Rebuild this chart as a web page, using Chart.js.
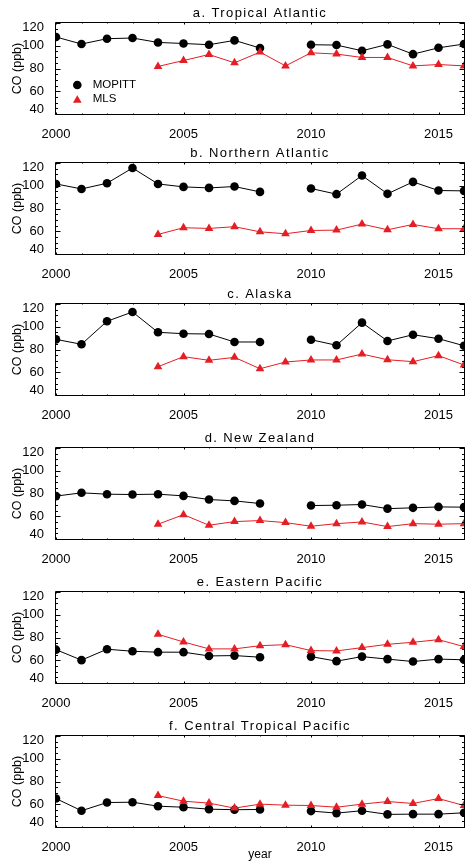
<!DOCTYPE html>
<html>
<head>
<meta charset="utf-8">
<script src="https://cdn.jsdelivr.net/npm/chart.js@4/dist/chart.umd.min.js"></script>
<style>
html, body { margin: 0; padding: 0; background: #ffffff; overflow: hidden; width: 469px; height: 864px; }
canvas { position: absolute; left: 0; }
</style>
</head>
<body>
<script>
// ---------- data ----------
const years = [2000, 2001, 2002, 2003, 2004, 2005, 2006, 2007, 2008, 2009, 2010, 2011, 2012, 2013, 2014, 2015, 2016];
const xTickLabels = ['2000', '2005', '2010', '2015'];
const yTickLabels = ['40', '60', '80', '100', '120'];
const seriesNames = ['MOPITT', 'MLS'];
const titles = ['a. Tropical Atlantic', 'b. Northern Atlantic', 'c. Alaska', 'd. New Zealand', 'e. Eastern Pacific', 'f. Central Tropical Pacific'];

const mopittA = [107.7, 101.5, 106.2, 106.8, 102.9, 102.0, 100.9, 104.7, 98.0, null, 100.9, 100.6, 95.6, 101.2, 92.6, 98.2, 101.5];
const mlsA    = [null, null, null, null, 81.8, 87.0, 92.3, 85.0, 94.4, 82.3, 93.8, 92.7, 89.7, 89.7, 82.3, 83.5, 82.3];

const mopittB = [101.6, 97.2, 102.2, 115.6, 101.6, 99.0, 98.1, 99.3, 94.6, null, 97.6, 92.6, 109.0, 92.9, 103.4, 95.8, 95.5];
const mlsB    = [null, null, null, null, 57.2, 63.1, 62.5, 64.0, 59.5, 57.8, 60.7, 61.0, 66.3, 61.3, 66.0, 62.2, 62.2];

const mopittC = [88.9, 84.6, 104.8, 113.0, 95.1, 93.9, 93.6, 86.6, 86.6, null, 88.6, 83.7, 103.6, 87.5, 93.0, 89.5, 83.3];
const mlsC    = [null, null, null, null, 64.9, 73.7, 70.5, 73.1, 63.1, 69.0, 70.8, 70.8, 76.0, 71.0, 69.3, 74.6, 66.4];

const mopittD = [77.7, 80.6, 79.4, 79.1, 79.4, 77.9, 74.7, 73.5, 71.2, null, 69.4, 69.7, 70.3, 66.7, 67.4, 68.2, 68.0];
const mlsD    = [null, null, null, null, 53.0, 61.4, 52.1, 55.3, 56.2, 54.4, 51.2, 53.5, 55.0, 50.9, 53.5, 53.0, 53.5];

const mopittE = [69.3, 60.1, 69.7, 67.9, 67.1, 67.1, 63.8, 64.1, 62.7, null, 63.2, 59.2, 63.2, 61.0, 58.9, 61.0, 60.4];
const mlsE    = [null, null, null, null, 82.8, 76.1, 70.0, 70.0, 72.8, 73.7, 68.5, 68.2, 71.1, 74.0, 75.8, 78.1, 72.0];

const mopittF = [65.0, 54.3, 61.5, 61.8, 58.3, 57.4, 55.7, 55.2, 55.4, null, 54.0, 52.2, 54.3, 51.1, 51.3, 51.3, 52.5];
const mlsF    = [null, null, null, null, 67.6, 62.7, 61.0, 56.6, 60.1, 59.2, 58.9, 57.4, 60.1, 62.4, 60.7, 65.0, 58.9];

const mopittSeries = [mopittA, mopittB, mopittC, mopittD, mopittE, mopittF];
const mlsSeries = [mlsA, mlsB, mlsC, mlsD, mlsE, mlsF];

// ---------- layout / style ----------
const plotTops = [23, 163, 304, 448, 592, 736];
const PAD_TOP = 22, PLOT_H = 91, AXIS_W = 56;
const FONT = '"Liberation Sans", Arial, Helvetica, sans-serif';
const RED = 'rgb(228,30,36)';
const BLACK = '#000000';
const EDGE_SHIFT = 4.7;

function drawMarker(ctx, style, r, x, y, color) {
  ctx.save();
  ctx.fillStyle = color;
  ctx.beginPath();
  if (style === 'circle') {
    ctx.arc(x, y, r, 0, Math.PI * 2);
  } else {
    let a = 0;
    ctx.moveTo(x + Math.sin(a) * r, y - Math.cos(a) * r);
    a += Math.PI * 2 / 3;
    ctx.lineTo(x + Math.sin(a) * r, y - Math.cos(a) * r);
    a += Math.PI * 2 / 3;
    ctx.lineTo(x + Math.sin(a) * r, y - Math.cos(a) * r);
    ctx.closePath();
  }
  ctx.fill();
  ctx.restore();
}

const idlPlugin = {
  id: 'idlAxes',
  beforeDraw(chart) {
    const ys = chart.scales.y;
    if (!ys || !ys.getLabelItems) return;
    const items = ys.getLabelItems(chart.chartArea);
    if (items && !items._shifted) {
      items.forEach(it => {
        const t = it.options && it.options.translation;
        if (!t) return;
        if (String(it.label) === yTickLabels[yTickLabels.length - 1]) t[1] += EDGE_SHIFT;
        if (String(it.label) === yTickLabels[0]) t[1] -= EDGE_SHIFT;
      });
      items._shifted = true;
    }
  },
  afterDatasetsDraw(chart) {
    const {ctx, chartArea: a, scales: {x, y}} = chart;
    ctx.save();
    ctx.strokeStyle = BLACK;
    ctx.lineWidth = 1;
    ctx.beginPath();
    const L = a.left - 0.5, R = a.right + 0.5, T = a.top - 0.5, B = a.bottom + 0.5;
    ctx.rect(L, T, R - L, B - T);
    // y ticks (inward, both sides), minor every 5
    for (let v = y.min; v <= y.max + 0.001; v += 5) {
      const py = Math.round(y.getPixelForValue(v)) + 0.5;
      const len = (v % 20 === 0) ? 5 : 2.5;
      ctx.moveTo(L, py); ctx.lineTo(L + len, py);
      ctx.moveTo(R, py); ctx.lineTo(R - len, py);
    }
    // x ticks (inward, top and bottom), minor every year
    for (let i = 0; i < years.length; i++) {
      const px = Math.round(x.getPixelForValue(i)) + 0.5;
      const len = (years[i] % 5 === 0) ? 2 : 1;
      ctx.moveTo(px, B); ctx.lineTo(px, B - len);
      ctx.moveTo(px, T); ctx.lineTo(px, T + len);
    }
    ctx.stroke();
    ctx.restore();
  },
  afterDraw(chart) {
    const {ctx, chartArea: a} = chart;
    const opts = chart.options.plugins.idlAxes || {};
    ctx.save();
    ctx.fillStyle = BLACK;
    ctx.font = '13px ' + FONT;
    try { ctx.letterSpacing = '1.4px'; } catch (e) {}
    ctx.textAlign = 'center';
    ctx.textBaseline = 'middle';
    ctx.fillText(opts.title || '', (a.left + a.right) / 2, a.top - 10);
    try { ctx.letterSpacing = '0px'; } catch (e) {}
    if (opts.legend) {
      const mx = a.left + 21.3, tx = a.left + 36.7;
      const y1 = a.top + 62, y2 = a.top + 76;
      drawMarker(ctx, 'circle', 4.3, mx, y1, BLACK);
      drawMarker(ctx, 'triangle', 5, mx, y2 + 1.2, RED);
      ctx.font = '11.5px ' + FONT;
      ctx.textAlign = 'left';
      ctx.fillStyle = BLACK;
      ctx.fillText(seriesNames[0], tx, y1);
      ctx.fillText(seriesNames[1], tx, y2);
    }
    ctx.restore();
  }
};

plotTops.forEach((top, k) => {
  const isLast = k === plotTops.length - 1;
  const xH = isLast ? 36 : 24;
  const cv = document.createElement('canvas');
  cv.width = 469;
  cv.height = PAD_TOP + PLOT_H + xH;
  cv.style.top = (top - PAD_TOP) + 'px';
  cv.style.width = '469px';
  cv.style.height = cv.height + 'px';
  document.body.appendChild(cv);

  new Chart(cv, {
    type: 'line',
    data: {
      labels: years,
      datasets: [
        {
          label: seriesNames[0], data: mopittSeries[k],
          borderColor: BLACK, borderWidth: 1, tension: 0, spanGaps: false,
          pointStyle: 'circle', pointRadius: 4.3, pointBackgroundColor: BLACK, pointBorderWidth: 0,
          order: 2, clip: 0
        },
        {
          label: seriesNames[1], data: mlsSeries[k],
          borderColor: RED, borderWidth: 1, tension: 0, spanGaps: false,
          pointStyle: 'triangle', pointRadius: 5, pointBackgroundColor: RED, pointBorderWidth: 0,
          order: 1, clip: 0
        }
      ]
    },
    options: {
      responsive: false,
      animation: false,
      events: [],
      devicePixelRatio: 1,
      layout: { padding: { top: PAD_TOP, right: 1, left: 0, bottom: 0 } },
      plugins: {
        legend: { display: false },
        tooltip: { enabled: false },
        title: { display: false },
        idlAxes: { title: titles[k], legend: k === 0 }
      },
      scales: {
        x: {
          type: 'category',
          grid: { display: false },
          border: { display: false },
          ticks: {
            autoSkip: false, maxRotation: 0, minRotation: 0, padding: 5, color: BLACK,
            font: { family: FONT, size: 13 },
            callback: function (v, i) {
              const s = String(years[i]);
              return xTickLabels.includes(s) ? s : '';
            }
          },
          title: {
            display: isLast, text: 'year', color: BLACK,
            font: { family: FONT, size: 12 }, padding: { top: 0, bottom: 1 }
          },
          afterFit: function (s) { s.height = xH; }
        },
        y: {
          min: 40, max: 120,
          grid: { display: false },
          border: { display: false },
          ticks: {
            stepSize: 20, padding: 4, color: BLACK,
            font: { family: FONT, size: 13 },
            callback: function (v) { return String(v); }
          },
          title: {
            display: true, text: 'CO (ppb)', color: BLACK,
            font: { family: FONT, size: 12.5 }, padding: { top: 10, bottom: 0 }
          },
          afterFit: function (s) { s.width = AXIS_W; }
        }
      }
    },
    plugins: [idlPlugin]
  });
});
</script>
</body>
</html>
